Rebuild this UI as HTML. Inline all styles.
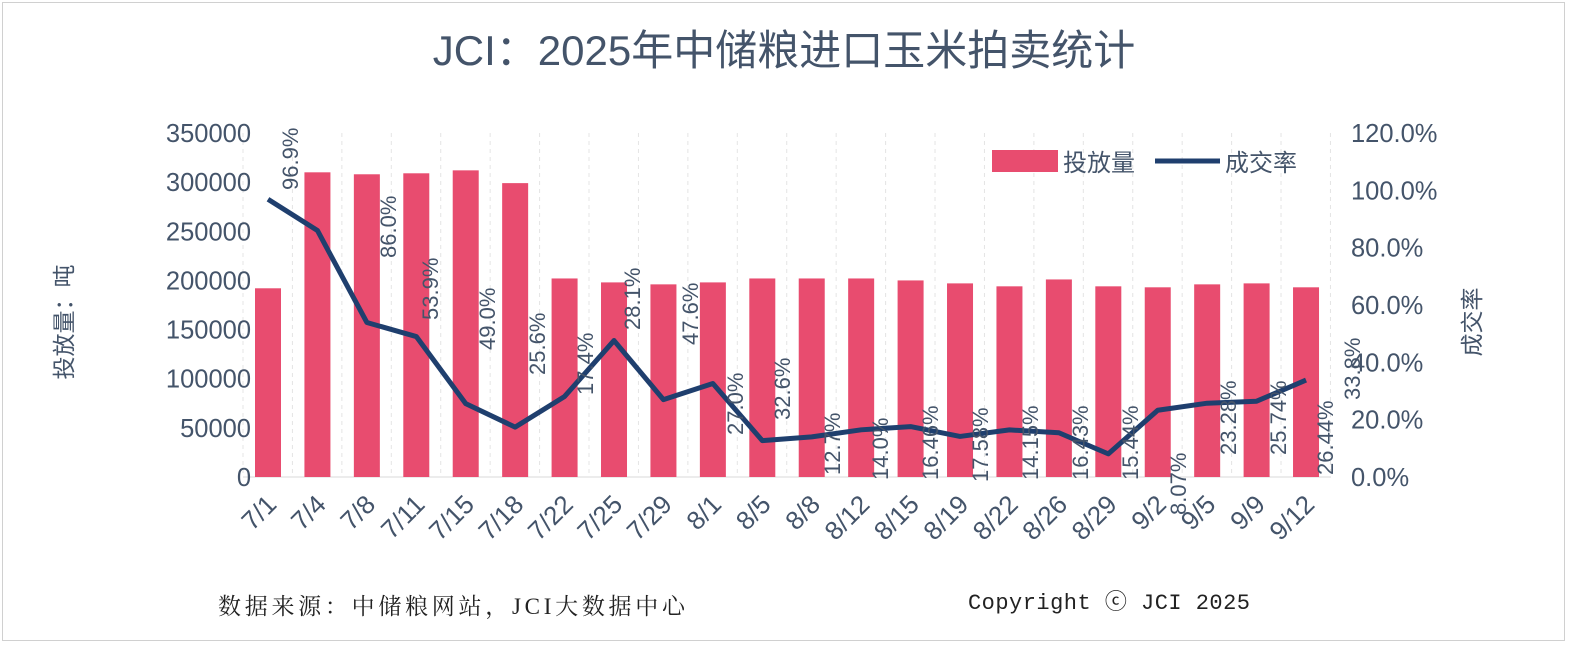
<!DOCTYPE html>
<html><head><meta charset="utf-8"><style>
body{margin:0;background:#fff}
svg text{font-family:"Liberation Sans","Noto Sans CJK SC",sans-serif;fill:#44546a}
</style></head><body>
<svg width="1577" height="664" viewBox="0 0 1577 664" xmlns="http://www.w3.org/2000/svg">
<rect x="2.5" y="2.5" width="1562" height="638" fill="#fff" stroke="#d0d0d0"/>
<text x="784" y="65" font-size="42" text-anchor="middle">JCI：2025年中储粮进口玉米拍卖统计</text>
<g id="grid" stroke="#e4e4e4" stroke-dasharray="4,4"></g>
<line x1="243" y1="477" x2="1331" y2="477" stroke="#d9d9d9"/>
<g id="yl" font-size="25.5" text-anchor="end"></g>
<g id="yr" font-size="25.5" text-anchor="start"></g>
<text transform="translate(72,322) rotate(-90)" font-size="23" text-anchor="middle">投放量：吨</text>
<text transform="translate(1480,322) rotate(-90)" font-size="23" text-anchor="middle">成交率</text>
<g id="bars" fill="#e84c6f"></g>
<polyline id="line" fill="none" stroke="#1f3f6e" stroke-width="5" stroke-linejoin="round"/>
<g id="lbl" font-size="22"></g>
<g id="xl" font-size="26" text-anchor="end"></g>
<rect x="992" y="150" width="66" height="22" fill="#e84c6f"/>
<text x="1063" y="171" font-size="24">投放量</text>
<line x1="1155" y1="161" x2="1220" y2="161" stroke="#1f3f6e" stroke-width="5"/>
<text x="1225" y="171" font-size="24">成交率</text>
<text x="218" y="614" font-size="23" style="fill:#222;font-family:'Liberation Serif','Noto Serif CJK SC',serif" textLength="467">数据来源：中储粮网站，JCI大数据中心</text>
<text x="968" y="609" font-size="22" style="fill:#222;font-family:'Liberation Mono','Noto Sans CJK SC',monospace" textLength="282">Copyright ⓒ JCI 2025</text>
</svg>
<script>
const NS="http://www.w3.org/2000/svg";
function el(p,t,a,txt){const e=document.createElementNS(NS,t);for(const k in a)e.setAttribute(k,a[k]);if(txt!=null)e.textContent=txt;document.getElementById(p).appendChild(e);return e;}
const cats=["7/1","7/4","7/8","7/11","7/15","7/18","7/22","7/25","7/29","8/1","8/5","8/8","8/12","8/15","8/19","8/22","8/26","8/29","9/2","9/5","9/9","9/12"];
const bars=[192,310,308,309,312,299,202,198,196,198,202,202,202,200,197,194,201,194,193,196,197,193];
const rate=[96.9,86.0,53.9,49.0,25.6,17.4,28.1,47.6,27.0,32.6,12.7,14.0,16.46,17.58,14.15,16.43,15.44,8.07,23.28,25.74,26.44,33.8];
const x0=268,dx=49.43,y0=477,sc=344/350000;
for(let i=0;i<=7;i++){const v=i*50000,y=y0-v*sc;el("yl","text",{x:251,y:y+9},String(v));}
for(let i=0;i<=6;i++){const y=y0-i*20/120*344;el("yr","text",{x:1351,y:y+9},(i*20).toFixed(1)+"%");}
for(let i=0;i<=22;i++){const x=243+i*dx;el("grid","line",{x1:x,y1:133,x2:x,y2:477});}
let pts=[];
cats.forEach((c,i)=>{const x=x0+i*dx,h=bars[i]*1000*sc;
el("bars","rect",{x:x-13,y:y0-h,width:26,height:h});
pts.push(x+","+(y0-rate[i]/120*344));
el("xl","text",{transform:`translate(${x+10},${506}) rotate(-45)`},c);});
document.getElementById("line").setAttribute("points",pts.join(" "));
const L=[["96.9%",290,190],["86.0%",388,258],["53.9%",430,320],["49.0%",487,350],["25.6%",537,375],["17.4%",585,395],["28.1%",632,330],["47.6%",690,345],["27.0%",735,435],["32.6%",782,420],["12.7%",832,475],["14.0%",880,480],["16.46%",930,480],["17.58%",980,482],["14.15%",1030,480],["16.43%",1080,480],["15.44%",1130,480],["8.07%",1178,515],["23.28%",1228,455],["25.74%",1278,455],["26.44%",1325,475],["33.8%",1352,400]];
L.forEach(([t,x,y])=>el("lbl","text",{transform:`translate(${x+8},${y}) rotate(-90)`},t));
</script>
</body></html>
